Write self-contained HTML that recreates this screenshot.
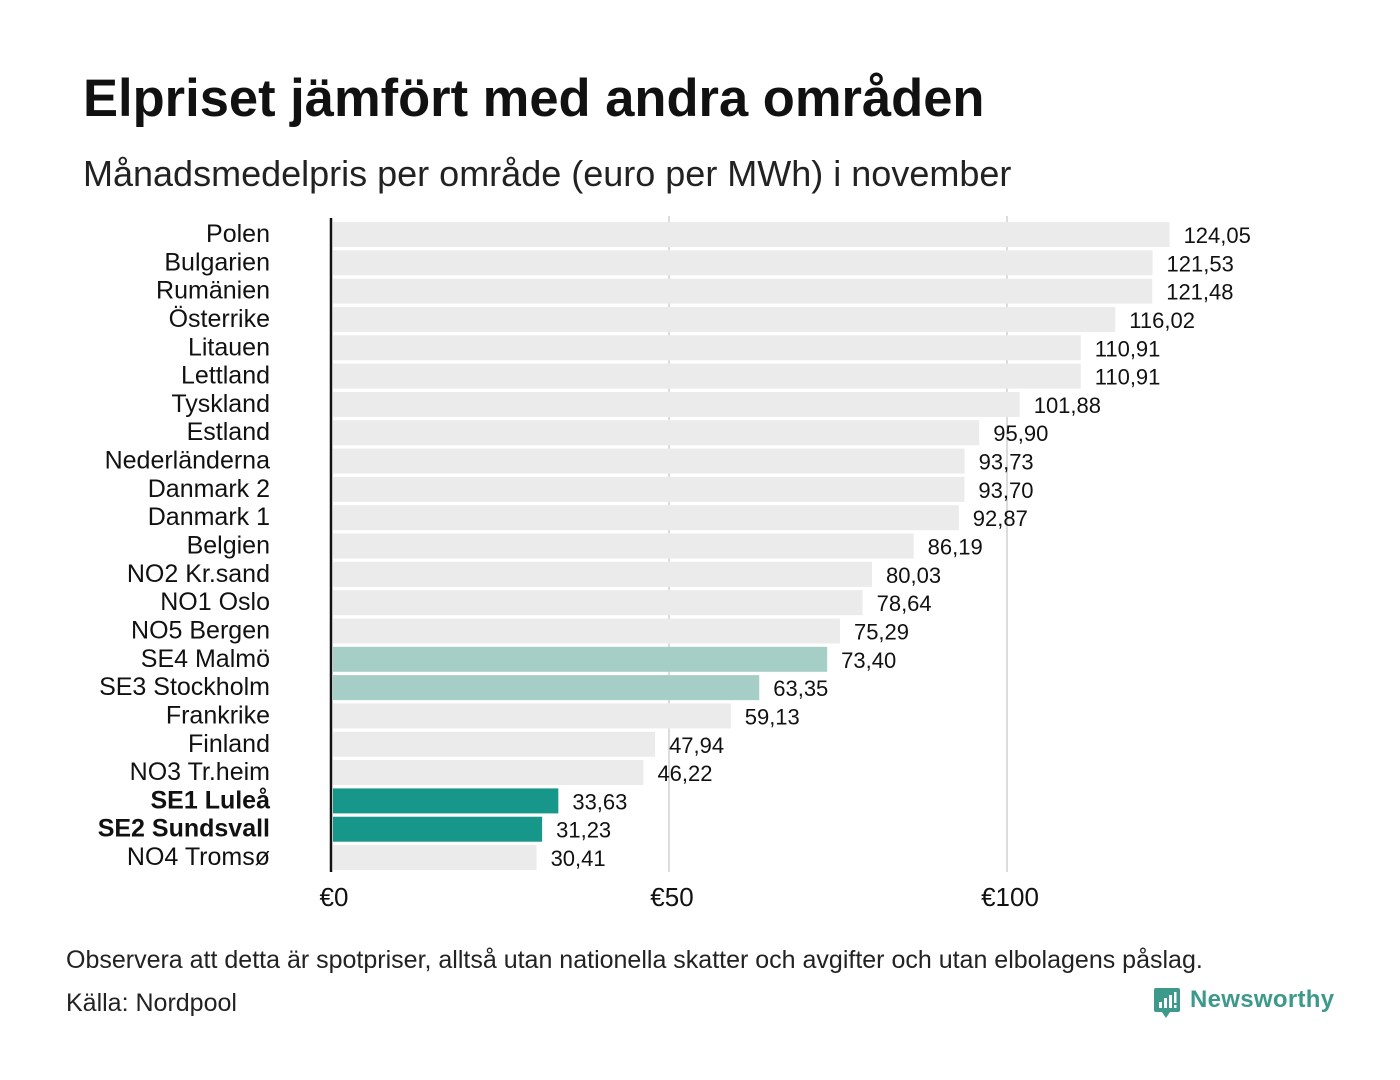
<!DOCTYPE html>
<html><head><meta charset="utf-8"><style>
body{margin:0;background:#fff;font-family:"Liberation Sans",sans-serif;}
#wrap{position:relative;width:1400px;height:1080px;overflow:hidden;}
.t{position:absolute;white-space:nowrap;color:#111;}
</style></head><body><div id="wrap">
<div class="t" style="left:83px;top:68px;font-size:52.5px;font-weight:bold;">Elpriset jämfört med andra områden</div>
<div class="t" style="left:83px;top:153px;font-size:36px;color:#222;">Månadsmedelpris per område (euro per MWh) i november</div>
<svg id="chart" width="1400" height="930" style="position:absolute;left:0;top:0"></svg>
<div class="t" style="left:66px;top:946px;font-size:25px;color:#222;">Observera att detta är spotpriser, alltså utan nationella skatter och avgifter och utan elbolagens påslag.</div>
<div class="t" style="left:66px;top:989px;font-size:25px;color:#222;">Källa: Nordpool</div>
<div style="position:absolute;left:1153px;top:986px;">
<svg width="28" height="34" style="position:absolute;left:0;top:0"><path d="M3 2h22a2 2 0 0 1 2 2v20a2 2 0 0 1-2 2h-8l-4 6-4-6H3a2 2 0 0 1-2-2V4a2 2 0 0 1 2-2z" fill="#3d9a8b"/><rect x="6" y="16" width="3" height="6" fill="#fff"/><rect x="11" y="12" width="3" height="10" fill="#fff"/><rect x="16" y="9" width="3" height="13" fill="#fff"/><rect x="21" y="6" width="2.5" height="11" fill="#fff"/><rect x="21" y="19" width="2.5" height="3" fill="#fff"/></svg>
<div class="t" style="left:37px;top:0px;font-size:24px;font-weight:bold;color:#3d9a8b;letter-spacing:0.3px;">Newsworthy</div></div>
</div>
<script>
const categories=["Polen","Bulgarien","Rumänien","Österrike","Litauen","Lettland","Tyskland","Estland","Nederländerna","Danmark 2","Danmark 1","Belgien","NO2 Kr.sand","NO1 Oslo","NO5 Bergen","SE4 Malmö","SE3 Stockholm","Frankrike","Finland","NO3 Tr.heim","SE1 Luleå","SE2 Sundsvall","NO4 Tromsø"];
const values=[124.05,121.53,121.48,116.02,110.91,110.91,101.88,95.90,93.73,93.70,92.87,86.19,80.03,78.64,75.29,73.40,63.35,59.13,47.94,46.22,33.63,31.23,30.41];
const ticks=[0,50,100];
const tickLabels=["€0","€50","€100"];
const svg=document.getElementById('chart');
const NS='http://www.w3.org/2000/svg';
const x=v=>331+v*6.76;
const y=i=>222+i*28.32;
function mk(t,a){const e=document.createElementNS(NS,t);for(const k in a)e.setAttribute(k,a[k]);svg.appendChild(e);return e;}
ticks.forEach((t,i)=>{
 if(t>0){const g=mk('line',{x1:x(t),x2:x(t),y1:216,y2:872,stroke:'#d0d0d0','stroke-width':1.5});
 
 }
 const l=mk('text',{x:x(t)+3,y:906,'font-size':26,'text-anchor':'middle',fill:'#111'});
 l.textContent=tickLabels[i];
 
 
});
categories.forEach((c,i)=>{
 let col='#ebebeb',bold=false;
 if(c.startsWith('SE1')||c.startsWith('SE2')){col='#17968a';bold=true;}
 else if(c.startsWith('SE3')||c.startsWith('SE4')){col='#a5cfc6';}
 const r=mk('rect',{x:333,y:y(i),width:x(values[i])-333,height:25,fill:col});
 
 
 const lb=mk('text',{x:270,y:y(i)+20,'font-size':25,'text-anchor':'end',fill:'#111','font-weight':bold?'bold':'normal'});
 lb.textContent=c;
 
 
 const v=mk('text',{x:x(values[i])+14,y:y(i)+21,'font-size':22,fill:'#111'});
 v.textContent=values[i].toFixed(2).replace('.',',');
 
 
});
const ax=mk('line',{x1:331,x2:331,y1:218,y2:872,stroke:'#111','stroke-width':2.5});


</script></body></html>
